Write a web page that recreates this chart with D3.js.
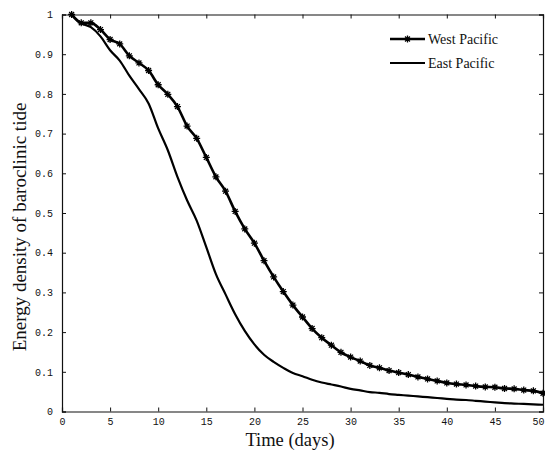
<html><head>
<title>Energy density of baroclinic tide</title>
<script src="https://cdn.jsdelivr.net/npm/d3@7"></script>
<style>
  body { margin: 0; background: #fff; }
  .tick text { font-family: "Liberation Mono", "DejaVu Sans Mono", monospace; font-size: 10px; fill: #111; }
  .domain, .tick line { stroke: #111; }
  .lbl { font-family: "Liberation Serif", serif; fill: #111; }
</style>
</head>
<body>
<svg id="chart" width="545" height="452"></svg>

<script>
// data
const days = d3.range(1, 51);

const westPacific = [1.000, 0.979, 0.979, 0.962, 0.937, 0.926, 0.896, 0.878, 0.859, 0.823,
  0.799, 0.768, 0.719, 0.688, 0.640, 0.591, 0.555, 0.504, 0.460, 0.424,
  0.380, 0.339, 0.302, 0.268, 0.238, 0.209, 0.186, 0.167, 0.149, 0.137,
  0.127, 0.116, 0.110, 0.103, 0.098, 0.093, 0.087, 0.082, 0.077, 0.072,
  0.069, 0.067, 0.064, 0.062, 0.061, 0.058, 0.057, 0.054, 0.052, 0.046];

const eastPacific = [1.000, 0.978, 0.968, 0.945, 0.910, 0.884, 0.846, 0.812, 0.776, 0.713,
  0.658, 0.591, 0.532, 0.481, 0.414, 0.346, 0.295, 0.245, 0.203, 0.169,
  0.143, 0.125, 0.110, 0.097, 0.089, 0.080, 0.073, 0.068, 0.063, 0.057,
  0.053, 0.049, 0.047, 0.044, 0.042, 0.040, 0.038, 0.036, 0.034, 0.032,
  0.030, 0.029, 0.027, 0.025, 0.023, 0.021, 0.020, 0.019, 0.018, 0.017];

const xTicks = [0, 5, 10, 15, 20, 25, 30, 35, 40, 45, 50];
const yTicks = [0, 0.1, 0.2, 0.3, 0.4, 0.5, 0.6, 0.7, 0.8, 0.9, 1];
const yTickLabels = ["0", "0.1", "0.2", "0.3", "0.4", "0.5", "0.6", "0.7", "0.8", "0.9", "1"];
const seriesNames = ["West Pacific", "East Pacific"];

let svg = d3.select("#chart");

let x = d3.scaleLinear().domain([0, 50]).range([62, 543]);
let y = d3.scaleLinear().domain([0, 1]).range([411.5, 14.5]);

// axes, MATLAB style with inward ticks on all four sides
let xAxis = svg.append("g")
  .attr("transform", "translate(0,411.5)")
  .call(d3.axisBottom(x).tickValues(xTicks).tickSize(-4).tickPadding(6));
// the last label sits on the page edge, pull it in a little
xAxis.selectAll(".tick text").filter(d => d == 50).attr("dx", -5);

svg.append("g")
  .attr("transform", "translate(62,0)")
  .call(d3.axisLeft(y).tickValues(yTicks).tickSize(-4).tickPadding(9)
    .tickFormat((d, i) => yTickLabels[i]));

svg.append("g")
  .attr("transform", "translate(0,14.5)")
  .call(d3.axisTop(x).tickValues(xTicks).tickSize(-4).tickFormat(""));

svg.append("g")
  .attr("transform", "translate(543,0)")
  .call(d3.axisRight(y).tickValues(yTicks).tickSize(-4).tickFormat(""));

svg.selectAll(".domain").attr("stroke-width", 1.2);

// lines
let line = d3.line().x((d, i) => x(days[i])).y(d => y(d)).curve(d3.curveMonotoneX);

svg.append("path")
  .datum(eastPacific)
  .attr("d", line)
  .attr("fill", "none")
  .attr("stroke", "#000")
  .attr("stroke-width", 2.2);

svg.append("path")
  .datum(westPacific)
  .attr("d", line)
  .attr("fill", "none")
  .attr("stroke", "#000")
  .attr("stroke-width", 2.6);

// asterisk markers
function star(g, cx, cy) {
  let r = 3.5;
  g.append("path")
    .attr("d", `M${cx - r},${cy}L${cx + r},${cy}M${cx},${cy - r}L${cx},${cy + r}` +
      `M${cx - r * 0.7},${cy - r * 0.7}L${cx + r * 0.7},${cy + r * 0.7}` +
      `M${cx - r * 0.7},${cy + r * 0.7}L${cx + r * 0.7},${cy - r * 0.7}`)
    .attr("stroke", "#000")
    .attr("stroke-width", 1.3)
    .attr("fill", "none");
}

let markers = svg.append("g");
westPacific.forEach(function(d, i) {
  star(markers, x(days[i]), y(d));
});

// legend
let legend = svg.append("g");
seriesNames.forEach(function(name, i) {
  let ly = 39 + i * 24;
  legend.append("line")
    .attr("x1", 390).attr("x2", 425)
    .attr("y1", ly).attr("y2", ly)
    .attr("stroke", "#000")
    .attr("stroke-width", i == 0 ? 2.6 : 2.2);
  if (i == 0) star(legend, 407.5, ly);
  legend.append("text")
    .attr("class", "lbl")
    .attr("x", 428).attr("y", ly + 4.5)
    .style("font-size", "14px")
    .text(name);
});

// axis titles
svg.append("text")
  .attr("class", "lbl")
  .attr("x", 290).attr("y", 446)
  .attr("text-anchor", "middle")
  .style("font-size", "18.5px")
  .text("Time (days)");

svg.append("text")
  .attr("class", "lbl")
  .attr("transform", "translate(26,227) rotate(-90)")
  .attr("text-anchor", "middle")
  .style("font-size", "19px")
  .text("Energy density of baroclinic tide");
</script>
</body>
</html>
